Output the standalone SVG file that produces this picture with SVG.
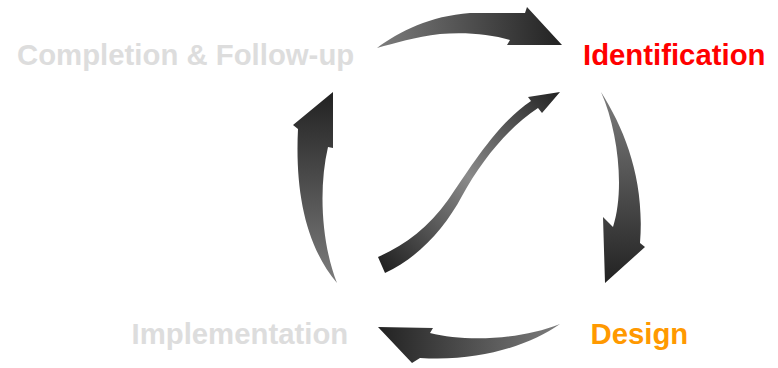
<svg xmlns="http://www.w3.org/2000/svg" width="778" height="368" viewBox="0 0 778 368">
  <defs>
    <linearGradient id="gTop" gradientUnits="userSpaceOnUse" x1="377" y1="40" x2="562" y2="30">
      <stop offset="0" stop-color="#7c7c7c"/>
      <stop offset="1" stop-color="#222222"/>
    </linearGradient>
    <linearGradient id="gRight" gradientUnits="userSpaceOnUse" x1="620" y1="92" x2="620" y2="283">
      <stop offset="0" stop-color="#7c7c7c"/>
      <stop offset="1" stop-color="#222222"/>
    </linearGradient>
    <linearGradient id="gBottom" gradientUnits="userSpaceOnUse" x1="560" y1="340" x2="378" y2="340">
      <stop offset="0" stop-color="#7c7c7c"/>
      <stop offset="1" stop-color="#222222"/>
    </linearGradient>
    <linearGradient id="gLeft" gradientUnits="userSpaceOnUse" x1="315" y1="283" x2="315" y2="92">
      <stop offset="0" stop-color="#7c7c7c"/>
      <stop offset="1" stop-color="#222222"/>
    </linearGradient>
    <linearGradient id="gMid" gradientUnits="userSpaceOnUse" x1="381" y1="265" x2="560" y2="92">
      <stop offset="0" stop-color="#222222"/>
      <stop offset="0.5" stop-color="#8a8a8a"/>
      <stop offset="1" stop-color="#222222"/>
    </linearGradient>
  </defs>
  <style>
    .lbl { font-family: "Liberation Sans", Arial, sans-serif; font-weight: bold; font-size: 29.33px; }
    .grey { fill: #dddddd; }
    .red { fill: #ff0000; }
    .orange { fill: #ff9900; }
  </style>

  <g id="connectors">
    <path id="arrow-top" fill="url(#gTop)" d="M377,48 C400,31 430,16 470,13 L525,13 L527,7 L562,45 L507,45 L510,40 C490,34 465,32 440,34 C415,37 395,43 377,48 Z"/>
    <path id="arrow-right" fill="url(#gRight)" d="M601,92 C625,130 645,180 640,243 L645,247 L605,283 L603,217 L613,227 C625,190 618,130 601,92 Z"/>
    <path id="arrow-bottom" fill="url(#gBottom)" d="M378,327 L433,328 L430,333 C465,342 520,340 560,324 C530,345 480,362 420,358 L412,363 Z"/>
    <path id="arrow-left" fill="url(#gLeft)" d="M333,92 L333,148 L328,147 C318,190 322,245 337,283 C305,245 295,190 298,129 L293,125 Z"/>
    <path id="arrow-diagonal" fill="url(#gMid)" d="M378,257 C405,245 428,228 448,200 C468,172 495,125 531,101 L528,97 L560,92 L542,113 L538,108 C508,128 482,160 462,196 C445,228 418,258 385,273 Z"/>
  </g>

  <g id="node-identification">
    <text class="lbl red" x="583" y="65">Identification</text>
  </g>
  <g id="node-design">
    <text class="lbl orange" x="590.5" y="344">Design</text>
  </g>
  <g id="node-implementation">
    <text class="lbl grey" x="131.5" y="344">Implementation</text>
  </g>
  <g id="node-completion">
    <text class="lbl grey" x="17" y="65">Completion &amp; Follow-up</text>
  </g>
</svg>
